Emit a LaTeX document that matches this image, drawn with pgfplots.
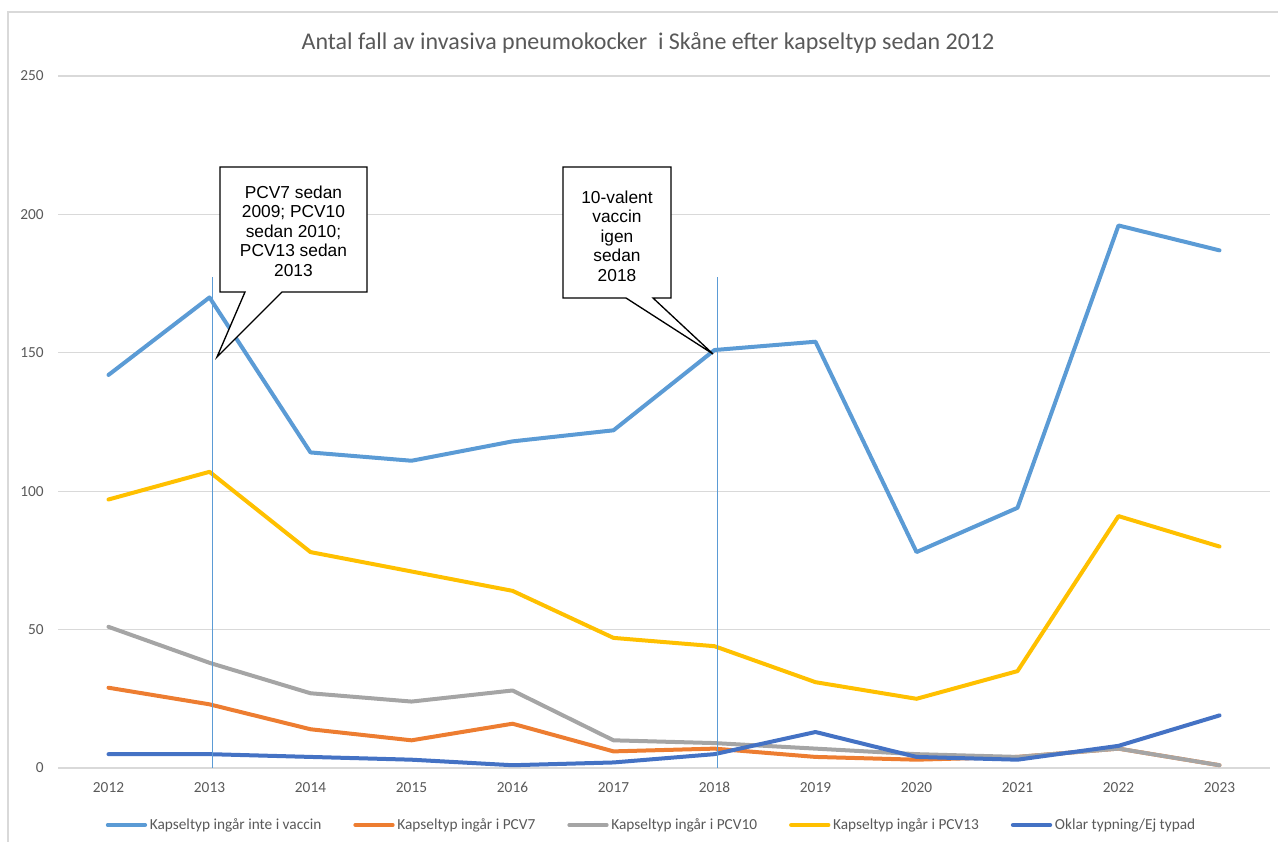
\documentclass[border=0pt]{standalone}
\usepackage{fontspec}
\setmainfont{Carlito}
\newfontfamily\arialfont{Liberation Sans}
\usepackage{pgfplots}
\pgfplotsset{compat=1.18}
\definecolor{cA}{HTML}{5B9BD5}
\definecolor{cB}{HTML}{ED7D31}
\definecolor{cC}{HTML}{A5A5A5}
\definecolor{cD}{HTML}{FFC000}
\definecolor{cE}{HTML}{4472C4}
\definecolor{gridc}{HTML}{D9D9D9}
\definecolor{txt}{HTML}{595959}
\begin{document}
\begin{tikzpicture}
\path[use as bounding box] (0,0) rectangle (958.5pt,631.5pt);
\draw[color=gridc, line width=0.9pt] (6pt,0) -- (6pt,622.5pt) -- (958.5pt,622.5pt);
\node[text=txt, font=\fontsize{18}{22}\selectfont] at (486pt,599.25pt) {Antal fall av invasiva pneumokocker\ \ i Skåne efter kapseltyp sedan 2012};
\begin{axis}[
  at={(43.5pt,55.5pt)}, anchor=south west,
  scale only axis, width=909pt, height=519pt,
  xmin=-0.5, xmax=11.5, ymin=0, ymax=250,
  ytick={0,50,100,150,200,250},
  xtick={0,1,2,3,4,5,6,7,8,9,10,11},
  xticklabels={2012,2013,2014,2015,2016,2017,2018,2019,2020,2021,2022,2023},
  ymajorgrids, grid style={color=gridc, line width=0.9pt},
  axis x line*=bottom, axis y line*=left,
  y axis line style={draw=none},
  x axis line style={color=gridc, line width=0.9pt, -},
  major tick length=0pt,
  tick label style={font=\fontsize{11.5}{13}\selectfont, text=txt},
  /pgf/number format/assume math mode=true,
  yticklabel style={inner sep=0pt, anchor=east, xshift=-10.5pt},
  xticklabel style={inner sep=0pt, anchor=north, yshift=-10.6pt},
  legend columns=5,
  legend style={at={(0.490,-0.0824)}, anchor=center, draw=none, fill=none,
    font=\fontsize{11.5}{13}\selectfont, text=txt,
    /tikz/every even column/.append style={column sep=22pt}},
  legend cell align=left,
  legend image code/.code={\draw[#1] (0pt,0pt) -- (28pt,0pt);},
  every axis plot/.append style={line width=3pt, line join=round, line cap=round},
]
\addplot[cA] coordinates {(0,142)(1,170)(2,114)(3,111)(4,118)(5,122)(6,151)(7,154)(8,78)(9,94)(10,196)(11,187)};
\addlegendentry{Kapseltyp ingår inte i vaccin}
\addplot[cB] coordinates {(0,29)(1,23)(2,14)(3,10)(4,16)(5,6)(6,7)(7,4)(8,3)(9,4)(10,7)(11,1)};
\addlegendentry{Kapseltyp ingår i PCV7}
\addplot[cC] coordinates {(0,51)(1,38)(2,27)(3,24)(4,28)(5,10)(6,9)(7,7)(8,5)(9,4)(10,7)(11,1)};
\addlegendentry{Kapseltyp ingår i PCV10}
\addplot[cD] coordinates {(0,97)(1,107)(2,78)(3,71)(4,64)(5,47)(6,44)(7,31)(8,25)(9,35)(10,91)(11,80)};
\addlegendentry{Kapseltyp ingår i PCV13}
\addplot[cE] coordinates {(0,5)(1,5)(2,4)(3,3)(4,1)(5,2)(6,5)(7,13)(8,4)(9,3)(10,8)(11,19)};
\addlegendentry{Oklar typning/Ej typad}
\addplot[cA, line width=1pt, line cap=butt, forget plot] coordinates {(1.03,0)(1.03,177.5)};
\addplot[cA, line width=1pt, line cap=butt, forget plot] coordinates {(6.03,0)(6.03,177.5)};
\end{axis}
\draw[fill=white, draw=black, line width=1pt, line join=miter]
  (165pt,506.25pt) -- (275.25pt,506.25pt) -- (275.25pt,412.5pt) -- (211.5pt,412.5pt)
  -- (162.75pt,363.75pt) -- (183.75pt,412.5pt) -- (165pt,412.5pt) -- cycle;
\node[align=center, font=\arialfont\fontsize{13}{14.6}\selectfont] at (220.1pt,458.25pt)
  {PCV7 sedan\\2009; PCV10\\sedan 2010;\\PCV13 sedan\\2013};
\draw[fill=white, draw=black, line width=1pt, line join=miter]
  (422.25pt,506.25pt) -- (503.25pt,506.25pt) -- (503.25pt,408pt) -- (489.75pt,408pt)
  -- (534.75pt,366pt) -- (469.5pt,408pt) -- (422.25pt,408pt) -- cycle;
\node[align=center, font=\arialfont\fontsize{13}{14.6}\selectfont] at (462.75pt,454.5pt)
  {10-valent\\vaccin\\igen\\sedan\\2018};
\end{tikzpicture}
\end{document}
